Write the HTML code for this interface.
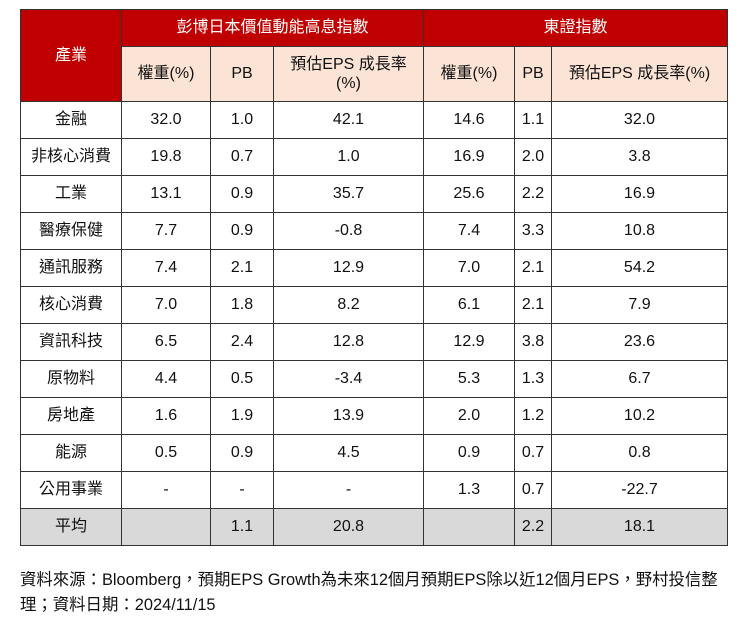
<!DOCTYPE html>
<html><head><meta charset="utf-8"><style>
body{margin:0;width:750px;height:618px;background:#fff;font-family:"Liberation Sans","Noto Sans CJK TC",sans-serif;color:#111;}
table{position:absolute;left:20px;top:9px;border-collapse:collapse;table-layout:fixed;font-size:16px;}
td{border:1px solid #333;text-align:center;padding:0;height:36px;line-height:20px;vertical-align:middle;}
.h{background:#c00000;color:#fff;font-size:16px;}
.s{background:#fbe4d5;}
.avg td{background:#d9d9d9;}
.note{position:absolute;left:20px;top:568px;font-size:16.4px;line-height:25px;width:720px;}
</style></head><body>
<table>
<colgroup><col style="width:101px"><col style="width:89px"><col style="width:63px"><col style="width:150px"><col style="width:49px"><col style="width:42px"><col style="width:37px"><col style="width:176px"></colgroup>
<tr style="height:37px"><td class="h" rowspan="2" style="vertical-align:top;padding-top:36px;height:54px">產業</td><td class="h" colspan="3" style="height:36px">彭博日本價值動能高息指數</td><td class="h" colspan="4">東證指數</td></tr>
<tr style="height:55px"><td class="s">權重(%)</td><td class="s">PB</td><td class="s" style="line-height:19px">預估EPS 成長率<br>(%)</td><td class="s" colspan="2">權重(%)</td><td class="s">PB</td><td class="s">預估EPS 成長率(%)</td></tr>
<tr><td>金融</td><td>32.0</td><td>1.0</td><td>42.1</td><td colspan="2">14.6</td><td>1.1</td><td>32.0</td></tr>
<tr><td>非核心消費</td><td>19.8</td><td>0.7</td><td>1.0</td><td colspan="2">16.9</td><td>2.0</td><td>3.8</td></tr>
<tr><td>工業</td><td>13.1</td><td>0.9</td><td>35.7</td><td colspan="2">25.6</td><td>2.2</td><td>16.9</td></tr>
<tr><td>醫療保健</td><td>7.7</td><td>0.9</td><td>-0.8</td><td colspan="2">7.4</td><td>3.3</td><td>10.8</td></tr>
<tr><td>通訊服務</td><td>7.4</td><td>2.1</td><td>12.9</td><td colspan="2">7.0</td><td>2.1</td><td>54.2</td></tr>
<tr><td>核心消費</td><td>7.0</td><td>1.8</td><td>8.2</td><td colspan="2">6.1</td><td>2.1</td><td>7.9</td></tr>
<tr><td>資訊科技</td><td>6.5</td><td>2.4</td><td>12.8</td><td colspan="2">12.9</td><td>3.8</td><td>23.6</td></tr>
<tr><td>原物料</td><td>4.4</td><td>0.5</td><td>-3.4</td><td colspan="2">5.3</td><td>1.3</td><td>6.7</td></tr>
<tr><td>房地產</td><td>1.6</td><td>1.9</td><td>13.9</td><td colspan="2">2.0</td><td>1.2</td><td>10.2</td></tr>
<tr><td>能源</td><td>0.5</td><td>0.9</td><td>4.5</td><td colspan="2">0.9</td><td>0.7</td><td>0.8</td></tr>
<tr><td>公用事業</td><td>-</td><td>-</td><td>-</td><td colspan="2">1.3</td><td>0.7</td><td>-22.7</td></tr>
<tr class="avg"><td>平均</td><td></td><td>1.1</td><td>20.8</td><td colspan="2"></td><td>2.2</td><td>18.1</td></tr>
</table>
<div class="note">資料來源：Bloomberg，預期EPS Growth為未來12個月預期EPS除以近12個月EPS，野村投信整<br>理；資料日期：2024/11/15</div>
</body></html>
